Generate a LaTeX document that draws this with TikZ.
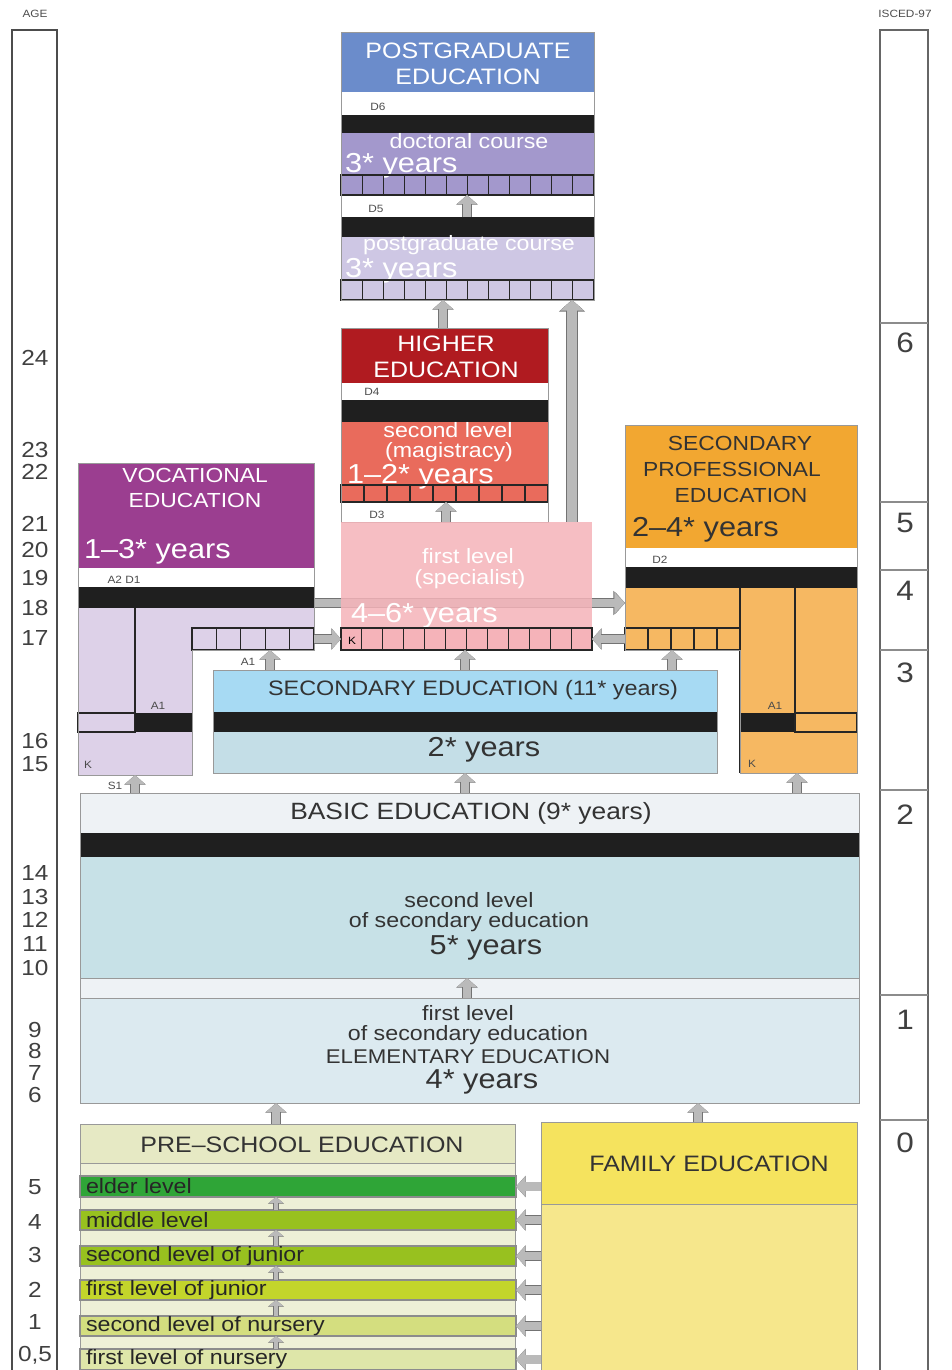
\documentclass[tikz,border=0pt]{standalone}
\usepackage{fontspec}
\setmainfont[FakeStretch=1.12]{Liberation Sans}
\usetikzlibrary{arrows.meta,fit}

\definecolor{pgblue}{HTML}{6B8CCB}
\definecolor{pgviolet}{HTML}{A398CC}
\definecolor{pglilac}{HTML}{CEC7E4}
\definecolor{hired}{HTML}{B01B20}
\definecolor{himag}{HTML}{E96B5C}
\definecolor{specpink}{HTML}{F5B3B9}
\definecolor{vocpurple}{HTML}{9B3E90}
\definecolor{voclilac}{HTML}{DDD1E8}
\definecolor{spdark}{HTML}{F2A731}
\definecolor{splight}{HTML}{F6B862}
\definecolor{secsky}{HTML}{A7DAF3}
\definecolor{secpale}{HTML}{C4DEE7}
\definecolor{bastop}{HTML}{EEF2F5}
\definecolor{basmid}{HTML}{C7E1E7}
\definecolor{baslow}{HTML}{DCEAF0}
\definecolor{prehead}{HTML}{E6E9C4}
\definecolor{preback}{HTML}{EEF0D7}
\definecolor{lvelder}{HTML}{2FA537}
\definecolor{lvmid}{HTML}{98C11F}
\definecolor{lvjun}{HTML}{C3D52B}
\definecolor{lvnurtwo}{HTML}{D4DE7F}
\definecolor{lvnurone}{HTML}{DEE6A9}
\definecolor{famtop}{HTML}{F5E35E}
\definecolor{fambot}{HTML}{F6E78C}

\begin{document}
\begin{tikzpicture}[x=0.02cm,y=-0.02cm]
  \tikzstyle{every node}=[inner sep=0pt,outer sep=0pt]
  \tikzstyle{frame}=[draw=black!40,line width=0.5pt]
  \tikzstyle{bar}=[fill=black!88]
  \tikzstyle{cell}=[draw=black!85,line width=0.6pt]
  \tikzstyle{hd}=[font=\fontsize{12.7}{13}\selectfont,text=white]
  \tikzstyle{ttl}=[font=\fontsize{12.7}{13}\selectfont,text=black!80]
  \tikzstyle{sub}=[font=\fontsize{11.8}{12}\selectfont,text=white]
  \tikzstyle{yrs}=[font=\fontsize{15.6}{16}\selectfont,text=white]
  \tikzstyle{lab}=[font=\fontsize{6}{6.5}\selectfont,text=black!70]
  \tikzstyle{num}=[font=\fontsize{12.4}{12.4}\selectfont,text=black!75]
  \tikzstyle{gar}=[draw=black!27,line width=4.6pt,-{Triangle[width=10.5pt,length=5pt]},
      preaction={draw=black!55,line width=5.6pt,-{Triangle[width=12pt,length=5.5pt]}}]
  \tikzstyle{mini}=[draw=black!27,line width=2.4pt,-{Triangle[width=8pt,length=3.4pt]},
      preaction={draw=black!55,line width=3.2pt,-{Triangle[width=9pt,length=3.8pt]}}]
  \useasboundingbox (0,0) rectangle (951,1370);

  % age and isced columns
  \node[lab] (agehd) at (35,14) {AGE};
  \node[lab] (iscedhd) at (905,14) {ISCED-97};
  \draw[black!70,line width=1.2pt] (12,30) rectangle (57,1380);
  \draw[black!60,line width=1pt] (880,30) rectangle (928,1380);
  \foreach \y in {323,502,570,650,790,995,1120}
    \draw[black!45,line width=0.6pt] (880,\y) -- (928,\y);
  \foreach \a/\y in {24/358,23/450,22/472,21/524,20/550,19/578,18/608,17/638,
                     16/741,15/764,14/873,13/897,12/920,11/944,10/968,
                     9/1030,8/1051,7/1073,6/1095,5/1187,4/1222,3/1255,2/1290,1/1322}
    \node[num] at (35,\y) {\a};
  \node[num] at (35,1355) {0,5};
  \foreach \a/\y in {6/343,5/523,4/591,3/673,2/815,1/1020,0/1143}
    \node[num,font=\fontsize{16}{16}\selectfont] at (905,\y) {\a};

  % postgraduate education
  \fill[pgblue] (341,32) rectangle (594,92);
  \node[hd] at (468,51) {POSTGRADUATE};
  \node[hd] at (468,77) {EDUCATION};
  \fill[white] (341,92) rectangle (594,115);
  \node[lab] at (378,107) {D6};
  \fill[bar] (341,115) rectangle (594,133);
  \fill[pgviolet] (341,133) rectangle (594,195);
  \node[sub] at (469,141) {doctoral course};
  \node[yrs,anchor=base west] at (345,172) {3* years};
  \foreach \i in {0,...,11}
    \draw[cell] ({341+\i*253/12},175) rectangle ++({253/12},20);
  \node[lab] at (376,209) {D5};
  \fill[bar] (341,217) rectangle (594,237);
  \fill[pglilac] (341,237) rectangle (594,300);
  \node[sub] at (469,245) {postgraduate course};
  \node[yrs,anchor=base west] at (345,277) {3* years};
  \foreach \i in {0,...,11}
    \draw[cell] ({341+\i*253/12},280) rectangle ++({253/12},20);
  \draw[frame] (341,32) rectangle (594,300);
  \node[fit={(341,32)(594,300)}] (pg) {};
  \node[fit={(341,133)(594,195)}] (pgdoc) {};
  \node[fit={(341,217)(594,237)}] (pgbar) {};

  % higher education
  \fill[hired] (341,328) rectangle (548,383);
  \node[hd] at (446,344) {HIGHER};
  \node[hd] at (446,370) {EDUCATION};
  \fill[white] (341,383) rectangle (548,400);
  \node[lab] at (372,392) {D4};
  \fill[bar] (341,400) rectangle (548,422);
  \fill[himag] (341,422) rectangle (548,502);
  \node[sub] at (448,430) {second level};
  \node[sub] at (449,452) {(magistracy)};
  \node[yrs,anchor=base west] at (347,483) {1–2* years};
  \foreach \i in {0,...,8}
    \draw[cell] ({341+\i*23},485) rectangle ++(23,17);
  \node[lab] at (377,515) {D3};
  \draw[frame] (341,328) rectangle (548,522);
  \node[fit={(341,328)(548,522)}] (hi) {};
  \node[fit={(341,422)(548,502)}] (himag) {};

  % arrows behind the specialist block
  \node[fit={(78,463)(314,608)}] (vochd) {};
  \node[fit={(625,425)(857,650)}] (sp) {};
  \node[fit={(341,522)(592,650)}] (spec) {};
  \draw[gar,line width=6pt,-{Triangle[width=13pt,length=6pt]},
        preaction={draw=black!55,line width=7pt,-{Triangle[width=14.5pt,length=6.6pt]}}]
    (spec.north -| 572,0) -- (pg.south -| 572,0);
  \draw[gar,line width=5pt,-{Triangle[width=12pt,length=6pt]},
        preaction={draw=black!55,line width=6pt,-{Triangle[width=13.5pt,length=6.6pt]}}]
    (vochd.east |- 0,603) -- (sp.west |- 0,603);

  % first level (specialist)
  \fill[specpink,fill opacity=0.85] (341,522) rectangle (592,628);
  \node[sub] at (468,556) {first level};
  \node[sub] at (470,579) {(specialist)};
  \node[yrs,anchor=base west] at (351,622) {4–6* years};
  \foreach \i in {0,...,11}
    \draw[cell,fill=specpink] ({341+\i*251/12},628) rectangle ++({251/12},22);
  \node[lab,text=black] at (352,641) {K};

  % vocational education
  \fill[vocpurple] (78,463) rectangle (314,568);
  \node[hd,font=\fontsize{11.6}{12}\selectfont] at (195,475) {VOCATIONAL};
  \node[hd,font=\fontsize{11.6}{12}\selectfont] at (195,500) {EDUCATION};
  \node[yrs,anchor=base west] at (84,558) {1–3* years};
  \fill[white] (78,568) rectangle (314,587);
  \node[lab] at (124,580) {A2 D1};
  \fill[bar] (78,587) rectangle (314,608);
  \fill[voclilac] (78,608) rectangle (192,775);
  \fill[voclilac] (192,608) rectangle (314,650);
  \foreach \i in {0,...,4}
    \draw[cell] ({192+\i*24.4},628) rectangle ++(24.4,22);
  \draw[cell] (135,608) -- (135,713);
  \draw[cell] (78,713) rectangle (135,732);
  \fill[bar] (135,713) rectangle (192,732);
  \node[lab] at (158,706) {A1};
  \node[lab] at (88,765) {K};
  \draw[frame] (78,463) -- (314,463) -- (314,650) -- (192,650) -- (192,775)
    -- (78,775) -- cycle;
  \node[fit={(192,628)(314,650)}] (voccells) {};
  \node[fit={(78,608)(192,775)}] (vocbase) {};

  % secondary professional education
  \fill[spdark] (625,425) rectangle (857,548);
  \node[ttl,font=\fontsize{11.6}{12}\selectfont] at (740,443) {SECONDARY};
  \node[ttl,font=\fontsize{11.6}{12}\selectfont] at (732,469) {PROFESSIONAL};
  \node[ttl,font=\fontsize{11.6}{12}\selectfont] at (741,495) {EDUCATION};
  \node[yrs,text=black!80,anchor=base west] at (632,536) {2–4* years};
  \fill[white] (625,548) rectangle (857,567);
  \node[lab] at (660,560) {D2};
  \fill[bar] (625,567) rectangle (857,588);
  \fill[splight] (625,588) rectangle (740,650);
  \fill[splight] (740,588) rectangle (857,773);
  \foreach \i in {0,...,4}
    \draw[cell] ({625+\i*23},628) rectangle ++(23,22);
  \draw[cell] (740,588) -- (740,773);
  \draw[cell] (795,588) -- (795,713);
  \fill[bar] (740,713) rectangle (795,732);
  \draw[cell] (795,713) rectangle (857,732);
  \node[lab] at (775,706) {A1};
  \node[lab] at (752,764) {K};
  \draw[frame] (625,425) -- (857,425) -- (857,773) -- (740,773) -- (740,650)
    -- (625,650) -- cycle;
  \node[fit={(625,628)(740,650)}] (spcells) {};
  \node[fit={(740,588)(857,773)}] (spbase) {};

  % secondary education
  \fill[secsky] (213,670) rectangle (717,712);
  \node[ttl,font=\fontsize{11.9}{12}\selectfont] at (473,690) {SECONDARY EDUCATION (11* years)};
  \fill[bar] (213,712) rectangle (717,732);
  \fill[secpale] (213,732) rectangle (717,773);
  \node[yrs,text=black!80] at (484,750) {2* years};
  \draw[frame] (213,670) rectangle (717,773);
  \node[fit={(213,670)(717,773)}] (sec) {};

  % basic education
  \fill[bastop] (80,793) rectangle (859,833);
  \node[ttl,font=\fontsize{13.4}{13.4}\selectfont] at (471,813) {BASIC EDUCATION (9* years)};
  \fill[bar] (80,833) rectangle (859,857);
  \fill[basmid] (80,857) rectangle (859,978);
  \node[sub,text=black!80] at (469,900) {second level};
  \node[sub,text=black!80] at (469,922) {of secondary education};
  \node[yrs,text=black!80] at (486,948) {5* years};
  \fill[bastop] (80,978) rectangle (859,998);
  \fill[baslow] (80,998) rectangle (859,1103);
  \node[sub,text=black!80] at (468,1013) {first level};
  \node[sub,text=black!80] at (468,1035) {of secondary education};
  \node[sub,text=black!80,font=\fontsize{11.3}{11.3}\selectfont] at (468,1057) {ELEMENTARY EDUCATION};
  \node[yrs,text=black!80] at (482,1082) {4* years};
  \draw[frame] (80,978) -- (859,978) (80,998) -- (859,998);
  \draw[frame] (80,793) rectangle (859,1103);
  \node[fit={(80,793)(859,1103)}] (basic) {};
  \node[fit={(80,857)(859,978)}] (basmid) {};
  \node[fit={(80,998)(859,1103)}] (baslow) {};

  % pre-school education
  \fill[prehead] (80,1124) rectangle (515,1163);
  \node[ttl] at (302,1145) {PRE–SCHOOL EDUCATION};
  \fill[preback] (80,1163) rectangle (515,1380);
  \draw[frame] (80,1163) -- (515,1163);
  \draw[frame] (80,1124) rectangle (515,1380);
  \node[fit={(80,1124)(515,1380)}] (pre) {};
  \foreach \k/\c/\ya/\yb/\t in {6/lvelder/1176/1197/elder level,
                                5/lvmid/1210/1230/middle level,
                                4/lvmid/1246/1266/second level of junior,
                                3/lvjun/1280/1300/first level of junior,
                                2/lvnurtwo/1316/1336/second level of nursery,
                                1/lvnurone/1349/1370/first level of nursery}{
    \node[fill=\c,draw=black!45,line width=0.6pt,fit={(80,\ya)(516,\yb)}] (lv\k) {};
    \node[sub,text=black!85,anchor=west] at (86,{(\ya+\yb)/2}) {\t};
  }

  % family education
  \fill[famtop] (541,1122) rectangle (857,1204);
  \node[ttl] at (709,1164) {FAMILY EDUCATION};
  \fill[fambot] (541,1204) rectangle (857,1380);
  \draw[frame] (541,1204) -- (857,1204);
  \draw[frame] (541,1122) rectangle (857,1380);
  \node[fit={(541,1122)(857,1380)}] (fam) {};

  % arrows
  \draw[gar] (pgbar.north -| 467,0) -- (pgdoc.south -| 467,0);
  \draw[gar] (hi.north -| 443,0) -- (pg.south -| 443,0);
  \draw[gar] (hi.south -| 446,0) -- (himag.south -| 446,0);
  \draw[gar] (sec.north -| 465,0) -- (spec.south -| 465,0);
  \draw[gar] (sec.north -| 270,0) -- (voccells.south -| 270,0);
  \node[lab] at (248,662) {A1};
  \draw[gar] (sec.north -| 672,0) -- (spcells.south -| 672,0);
  \draw[gar] (voccells.east) -- (spec.west |- voccells.east);
  \draw[gar] (spcells.west) -- (spec.east |- spcells.west);
  \draw[gar] (basic.north -| 135,0) -- (vocbase.south -| 135,0);
  \node[lab] at (115,786) {S1};
  \draw[gar] (basic.north -| 465,0) -- (sec.south -| 465,0);
  \draw[gar] (basic.north -| 797,0) -- (spbase.south -| 797,0);
  \draw[gar] (baslow.north -| 467,0) -- (basmid.south -| 467,0);
  \draw[gar] (pre.north -| 276,0) -- (basic.south -| 276,0);
  \draw[gar] (fam.north -| 698,0) -- (basic.south -| 698,0);
  \foreach \k/\j in {1/2,2/3,3/4,4/5,5/6}
    \draw[mini] (lv\k.north -| 276,0) -- (lv\j.south -| 276,0);
  \foreach \k in {1,...,6}
    \draw[gar] (fam.west |- lv\k) -- (lv\k.east);
\end{tikzpicture}
\end{document}
